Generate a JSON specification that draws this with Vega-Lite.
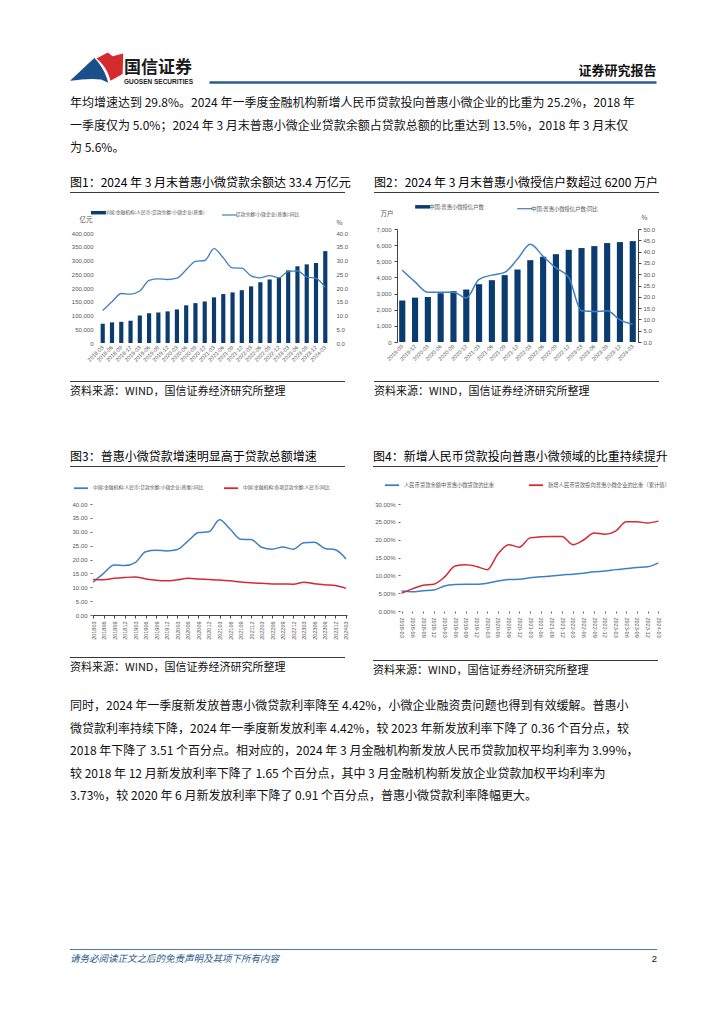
{
  "$schema": "https://vega.github.io/schema/vega-lite/v6.json",
  "background": "white",
  "padding": {"left": 70, "top": 45, "right": 10, "bottom": 10},
  "spacing": 0,
  "resolve": {"scale": {"color": "independent", "shape": "independent"}, "legend": {"color": "independent", "shape": "independent"}},
  "config": {
    "view": {"stroke": null},
    "font": "Noto Sans CJK SC",
    "title": {"font": "Noto Sans CJK SC", "fontWeight": "normal", "color": "#111", "limit": 900},
    "axis": {"labelFont": "Liberation Sans", "labelColor": "#555", "grid": false, "titleFont": "Noto Sans CJK SC", "titleFontWeight": "normal", "titleColor": "#555", "titleFontSize": 6.5},
    "legend": {"labelFont": "Noto Sans CJK SC", "labelColor": "#555", "padding": 0}
  },
  "datasets": {
    "q": [
      {"d": "2018-03", "bal": 70000, "yoy": 11.8, "loan": 12.8},
      {"d": "2018-06", "bal": 75000, "yoy": 15.0, "loan": 12.7},
      {"d": "2018-09", "bal": 77000, "yoy": 18.0, "loan": 13.2},
      {"d": "2018-12", "bal": 81000, "yoy": 17.8, "loan": 13.5},
      {"d": "2019-03", "bal": 100000, "yoy": 18.9, "loan": 13.7},
      {"d": "2019-06", "bal": 108000, "yoy": 22.8, "loan": 13.0},
      {"d": "2019-09", "bal": 111000, "yoy": 23.3, "loan": 12.5},
      {"d": "2019-12", "bal": 115000, "yoy": 23.1, "loan": 12.3},
      {"d": "2020-03", "bal": 122000, "yoy": 23.6, "loan": 12.7},
      {"d": "2020-06", "bal": 137000, "yoy": 26.6, "loan": 13.2},
      {"d": "2020-09", "bal": 145000, "yoy": 29.7, "loan": 13.0},
      {"d": "2020-12", "bal": 151000, "yoy": 30.0, "loan": 12.8},
      {"d": "2021-03", "bal": 166000, "yoy": 34.3, "loan": 12.6},
      {"d": "2021-06", "bal": 178000, "yoy": 31.0, "loan": 12.3},
      {"d": "2021-09", "bal": 184000, "yoy": 27.3, "loan": 11.9},
      {"d": "2021-12", "bal": 192000, "yoy": 27.2, "loan": 11.6},
      {"d": "2022-03", "bal": 206000, "yoy": 24.4, "loan": 11.4},
      {"d": "2022-06", "bal": 221000, "yoy": 23.7, "loan": 11.2},
      {"d": "2022-09", "bal": 231000, "yoy": 24.5, "loan": 11.2},
      {"d": "2022-12", "bal": 238000, "yoy": 23.7, "loan": 11.1},
      {"d": "2023-03", "bal": 264000, "yoy": 26.0, "loan": 11.8},
      {"d": "2023-06", "bal": 279000, "yoy": 26.2, "loan": 11.3},
      {"d": "2023-09", "bal": 286000, "yoy": 24.0, "loan": 10.9},
      {"d": "2023-12", "bal": 291000, "yoy": 23.5, "loan": 10.6},
      {"d": "2024-03", "bal": 334000, "yoy": 20.2, "loan": 9.6}
    ],
    "q2": [
      {"d": "2019-09", "cnt": 2570, "yoy": 31.8},
      {"d": "2019-12", "cnt": 2750, "yoy": 26.6},
      {"d": "2020-03", "cnt": 2790, "yoy": 22.0},
      {"d": "2020-06", "cnt": 3020, "yoy": 22.0},
      {"d": "2020-09", "cnt": 3150, "yoy": 22.0},
      {"d": "2020-12", "cnt": 3250, "yoy": 19.5},
      {"d": "2021-03", "cnt": 3580, "yoy": 27.7},
      {"d": "2021-06", "cnt": 3830, "yoy": 29.6},
      {"d": "2021-09", "cnt": 4140, "yoy": 30.8},
      {"d": "2021-12", "cnt": 4490, "yoy": 36.7},
      {"d": "2022-03", "cnt": 5070, "yoy": 43.2},
      {"d": "2022-06", "cnt": 5280, "yoy": 37.9},
      {"d": "2022-09", "cnt": 5440, "yoy": 32.8},
      {"d": "2022-12", "cnt": 5710, "yoy": 28.6},
      {"d": "2023-03", "cnt": 5820, "yoy": 13.8},
      {"d": "2023-06", "cnt": 5940, "yoy": 13.5},
      {"d": "2023-09", "cnt": 6130, "yoy": 13.8},
      {"d": "2023-12", "cnt": 6190, "yoy": 9.8},
      {"d": "2024-03", "cnt": 6250, "yoy": 7.8}
    ],
    "q4": [
      {"d": "2018-03", "stock": 5.6, "flow": 5.0},
      {"d": "2018-06", "stock": 5.4, "flow": 6.2},
      {"d": "2018-09", "stock": 5.7, "flow": 7.2},
      {"d": "2018-12", "stock": 5.9, "flow": 7.5},
      {"d": "2019-03", "stock": 7.0, "flow": 9.5},
      {"d": "2019-06", "stock": 7.4, "flow": 12.6},
      {"d": "2019-09", "stock": 7.5, "flow": 13.0},
      {"d": "2019-12", "stock": 7.5, "flow": 12.5},
      {"d": "2020-03", "stock": 7.8, "flow": 11.6},
      {"d": "2020-06", "stock": 8.4, "flow": 16.0},
      {"d": "2020-09", "stock": 8.8, "flow": 18.6},
      {"d": "2020-12", "stock": 8.9, "flow": 17.9},
      {"d": "2021-03", "stock": 9.3, "flow": 20.5},
      {"d": "2021-06", "stock": 9.6, "flow": 20.8},
      {"d": "2021-09", "stock": 9.8, "flow": 20.9},
      {"d": "2021-12", "stock": 10.1, "flow": 20.9},
      {"d": "2022-03", "stock": 10.3, "flow": 18.6},
      {"d": "2022-06", "stock": 10.6, "flow": 19.9},
      {"d": "2022-09", "stock": 11.0, "flow": 21.9},
      {"d": "2022-12", "stock": 11.2, "flow": 21.5},
      {"d": "2023-03", "stock": 11.6, "flow": 22.4},
      {"d": "2023-06", "stock": 11.9, "flow": 25.0},
      {"d": "2023-09", "stock": 12.2, "flow": 25.0},
      {"d": "2023-12", "stock": 12.4, "flow": 24.7},
      {"d": "2024-03", "stock": 13.5, "flow": 25.2}
    ]
  },
  "vconcat": [
    {
      "spacing": 0,
      "resolve": {"scale": {"color": "independent", "shape": "independent"}, "legend": {"color": "independent", "shape": "independent"}},
      "hconcat": [
        {
          "width": 54, "height": 32,
          "data": {"values": [{"p": "red"}, {"p": "blue"}]},
          "mark": {"type": "point", "filled": true, "size": 2916, "opacity": 1, "strokeWidth": 0},
          "encoding": {
            "shape": {"field": "p", "type": "nominal", "legend": null, "scale": {"domain": ["red", "blue"], "range": ["M -0.02 -0.28 L 0.4 -0.5 L 0.58 -0.36 L 0.97 -0.46 L 0.95 0.3 L 0.5 0.55 C 0.42 0.2 0.25 -0.05 -0.02 -0.28 Z", "M -1 0.55 L -0.1 -0.3 C 0.15 -0.05 0.32 0.25 0.42 0.62 L 0.15 0.5 C -0.2 0.45 -0.6 0.5 -1 0.55 Z"]}},
            "color": {"field": "p", "type": "nominal", "legend": null, "scale": {"domain": ["red", "blue"], "range": ["#d52b2e", "#1b4f8c"]}}
          }
        },
        {
          "width": 85, "height": 3,
          "title": {"text": "国信证券", "subtitle": "GUOSEN SECURITIES", "orient": "bottom", "anchor": "start", "offset": 3, "fontSize": 17, "fontWeight": "bold", "color": "#1a1a1a", "subtitleFontSize": 6.5, "subtitleColor": "#222", "subtitlePadding": 2, "subtitleFont": "Liberation Sans", "subtitleFontWeight": "bold"},
          "data": {"values": [{}]},
          "mark": {"type": "text", "text": ""}
        },
        {
          "width": 447, "height": 32,
          "data": {"values": [{}]},
          "mark": {"type": "text", "text": ""},
          "encoding": {
            "x": {"datum": 0, "type": "quantitative", "scale": {"domain": [0, 1]},
              "axis": {"orient": "bottom", "domainColor": "#2a5d8f", "domainWidth": 2.5, "ticks": false, "labels": false, "title": "证券研究报告", "titleAnchor": "end", "titleAlign": "right", "titleBaseline": "bottom", "titleY": -5, "titleFontSize": 13, "titleFontWeight": "bold", "titleColor": "#111"}}
          }
        }
      ]
    },
    {"width": 1, "height": 12, "data": {"values": [{}]}, "mark": {"type": "text", "text": "", "fontSize": 0}},
    {
      "width": 587, "height": 1,
      "title": {"text": ["年均增速达到 29.8%。2024 年一季度金融机构新增人民币贷款投向普惠小微企业的比重为 25.2%，2018 年", "一季度仅为 5.0%；2024 年 3 月末普惠小微企业贷款余额占贷款总额的比重达到 13.5%，2018 年 3 月末仅", "为 5.6%。"], "anchor": "start", "offset": 0, "fontSize": 12, "lineHeight": 22.5, "color": "#111"},
      "data": {"values": [{}]},
      "mark": {"type": "text", "text": "", "fontSize": 0}
    },
    {"width": 1, "height": 21, "data": {"values": [{}]}, "mark": {"type": "text", "text": "", "fontSize": 0}},
    {
      "spacing": 23,
      "resolve": {"scale": {"color": "independent"}, "legend": {"color": "independent"}},
      "hconcat": [
        {
          "spacing": 0,
          "resolve": {"scale": {"color": "independent"}, "legend": {"color": "independent"}},
          "vconcat": [
            {"width": 275, "height": 1, "view": {"fill": "#3a3a3a", "stroke": null}, "title": {"text": "图1：2024 年 3 月末普惠小微贷款余额达 33.4 万亿元", "anchor": "start", "offset": 2, "fontSize": 12, "color": "#000"}, "data": {"values": [{}]}, "mark": {"type": "text", "text": "", "fontSize": 0}},
            {"width": 1, "height": 17, "data": {"values": [{}]}, "mark": {"type": "text", "text": "", "fontSize": 0}},
            {
              "spacing": 0,
              "resolve": {"scale": {"color": "independent"}, "legend": {"color": "independent"}},
              "hconcat": [
                {"width": 1, "height": 1, "data": {"values": [{}]}, "mark": {"type": "text", "text": "", "fontSize": 0}},
                {
                  "width": 236, "height": 110,
                  "data": {"name": "q"},
                  "encoding": {
                    "x": {"field": "d", "type": "ordinal", "sort": null, "scale": {"paddingInner": 0.55, "paddingOuter": 0.5},
                      "axis": {"title": null, "labelAngle": -45, "labelAlign": "right", "labelBaseline": "middle", "labelFontSize": 5.5, "domain": false, "ticks": false, "labelPadding": 3}}
                  },
                  "layer": [
                    {
                      "mark": {"type": "bar"},
                      "encoding": {
                        "y": {"field": "bal", "type": "quantitative", "scale": {"domain": [0, 400000]},
                          "axis": {"values": [0, 50000, 100000, 150000, 200000, 250000, 300000, 350000, 400000], "format": ",.0f", "labelFontSize": 6, "domain": false, "ticks": false, "labelPadding": 3, "title": "亿元", "titleAngle": 0, "titleAlign": "left", "titleBaseline": "middle", "titleX": -17, "titleY": -14}},
                        "color": {"datum": "中国:金融机构:人民币:贷款余额:小微企业(普惠)",
                          "scale": {"domain": ["中国:金融机构:人民币:贷款余额:小微企业(普惠)", "贷款余额:小微企业(普惠):同比"], "range": ["#0b3c70", "#3f80c2"]},
                          "legend": {"orient": "top", "direction": "horizontal", "title": null, "symbolType": "stroke", "symbolSize": 225, "labelFontSize": 4.8, "columnPadding": 14, "offset": 13,
                            "encode": {"symbols": {"update": {"stroke": {"scale": "color", "field": "value"}, "strokeWidth": {"signal": "datum.index === 0 ? 3.5 : 1.2"}}}}}}
                      }
                    },
                    {
                      "mark": {"type": "line", "interpolate": "monotone", "strokeWidth": 1.3},
                      "encoding": {
                        "y": {"field": "yoy", "type": "quantitative", "scale": {"domain": [0, 40]},
                          "axis": {"orient": "right", "values": [0, 5, 10, 15, 20, 25, 30, 35, 40], "format": ".1f", "labelFontSize": 6, "domain": false, "ticks": false, "labelPadding": 4, "title": "%", "titleAngle": 0, "titleAlign": "left", "titleBaseline": "middle", "titleX": 4, "titleY": -11}},
                        "color": {"datum": "贷款余额:小微企业(普惠):同比"}
                      }
                    }
                  ],
                  "resolve": {"scale": {"y": "independent"}}
                }
              ]
            },
            {"width": 1, "height": 18, "data": {"values": [{}]}, "mark": {"type": "text", "text": "", "fontSize": 0}},
            {"width": 275, "height": 1, "view": {"fill": "#3a3a3a", "stroke": null}, "title": {"text": "资料来源：WIND，国信证券经济研究所整理", "orient": "bottom", "anchor": "start", "offset": 4, "fontSize": 11, "color": "#111"}, "data": {"values": [{}]}, "mark": {"type": "text", "text": "", "fontSize": 0}}
          ]
        },
        {
          "spacing": 0,
          "resolve": {"scale": {"color": "independent"}, "legend": {"color": "independent"}},
          "vconcat": [
            {"width": 285, "height": 1, "view": {"fill": "#3a3a3a", "stroke": null}, "title": {"text": "图2：2024 年 3 月末普惠小微授信户数超过 6200 万户", "anchor": "start", "offset": 2, "fontSize": 12, "color": "#000"}, "data": {"values": [{}]}, "mark": {"type": "text", "text": "", "fontSize": 0}},
            {"width": 1, "height": 11, "data": {"values": [{}]}, "mark": {"type": "text", "text": "", "fontSize": 0}},
            {
              "spacing": 0,
              "resolve": {"scale": {"color": "independent"}, "legend": {"color": "independent"}},
              "hconcat": [
                {"width": 1, "height": 1, "data": {"values": [{}]}, "mark": {"type": "text", "text": "", "fontSize": 0}},
                {
                  "width": 241, "height": 113,
                  "data": {"name": "q2"},
                  "encoding": {
                    "x": {"field": "d", "type": "ordinal", "sort": null, "scale": {"paddingInner": 0.52, "paddingOuter": 0.17},
                      "axis": {"title": null, "labelAngle": -45, "labelAlign": "right", "labelBaseline": "middle", "labelFontSize": 5.5, "domain": false, "ticks": false, "labelPadding": 3}}
                  },
                  "layer": [
                    {
                      "mark": {"type": "bar"},
                      "encoding": {
                        "y": {"field": "cnt", "type": "quantitative", "scale": {"domain": [0, 7000]},
                          "axis": {"values": [0, 1000, 2000, 3000, 4000, 5000, 6000, 7000], "format": ",.0f", "labelFontSize": 6, "domain": true, "domainColor": "#444", "ticks": true, "tickSize": 3, "tickColor": "#444", "labelPadding": 3, "title": "万户", "titleAngle": 0, "titleAlign": "left", "titleBaseline": "middle", "titleX": -17, "titleY": -16}},
                        "color": {"datum": "中国:普惠小微授信户数",
                          "scale": {"domain": ["中国:普惠小微授信户数", "中国:普惠小微授信户数:同比"], "range": ["#0b3c70", "#3f80c2"]},
                          "legend": {"orient": "none", "legendX": 23, "legendY": -25, "direction": "horizontal", "title": null, "symbolType": "stroke", "symbolSize": 225, "labelFontSize": 5.3, "columnPadding": 30,
                            "encode": {"symbols": {"update": {"stroke": {"scale": "color", "field": "value"}, "strokeWidth": {"signal": "datum.index === 0 ? 3.5 : 1.2"}}}}}}
                      }
                    },
                    {
                      "mark": {"type": "line", "interpolate": "monotone", "strokeWidth": 1.5},
                      "encoding": {
                        "y": {"field": "yoy", "type": "quantitative", "scale": {"domain": [0, 50]},
                          "axis": {"orient": "right", "values": [0, 5, 10, 15, 20, 25, 30, 35, 40, 45, 50], "format": ".1f", "labelFontSize": 6, "domain": true, "domainColor": "#444", "ticks": true, "tickSize": 3, "tickColor": "#444", "labelPadding": 2, "title": "%", "titleAngle": 0, "titleAlign": "left", "titleBaseline": "middle", "titleX": 3, "titleY": -12}},
                        "color": {"datum": "中国:普惠小微授信户数:同比"}
                      }
                    }
                  ],
                  "resolve": {"scale": {"y": "independent"}}
                }
              ]
            },
            {"width": 1, "height": 19, "data": {"values": [{}]}, "mark": {"type": "text", "text": "", "fontSize": 0}},
            {"width": 285, "height": 1, "view": {"fill": "#3a3a3a", "stroke": null}, "title": {"text": "资料来源：WIND，国信证券经济研究所整理", "orient": "bottom", "anchor": "start", "offset": 4, "fontSize": 11, "color": "#111"}, "data": {"values": [{}]}, "mark": {"type": "text", "text": "", "fontSize": 0}}
          ]
        }
      ]
    },
    {"width": 1, "height": 54, "data": {"values": [{}]}, "mark": {"type": "text", "text": "", "fontSize": 0}},
    {
      "spacing": 23,
      "resolve": {"scale": {"color": "independent"}, "legend": {"color": "independent"}},
      "hconcat": [
        {
          "spacing": 0,
          "resolve": {"scale": {"color": "independent"}, "legend": {"color": "independent"}},
          "vconcat": [
            {"width": 275, "height": 1, "view": {"fill": "#3a3a3a", "stroke": null}, "title": {"text": "图3：普惠小微贷款增速明显高于贷款总额增速", "anchor": "start", "offset": 2, "fontSize": 12, "color": "#000"}, "data": {"values": [{}]}, "mark": {"type": "text", "text": "", "fontSize": 0}},
            {"width": 1, "height": 13, "data": {"values": [{}]}, "mark": {"type": "text", "text": "", "fontSize": 0}},
            {
              "spacing": 0,
              "resolve": {"scale": {"color": "independent"}, "legend": {"color": "independent"}},
              "hconcat": [
                {"width": 1, "height": 1, "data": {"values": [{}]}, "mark": {"type": "text", "text": "", "fontSize": 0}},
                {
                  "width": 255, "height": 111,
                  "data": {"name": "q"},
                  "encoding": {
                    "x": {"field": "d", "type": "ordinal", "sort": null, "scale": {"type": "point", "padding": 0.1},
                      "axis": {"title": null, "labelAngle": -90, "labelAlign": "right", "labelBaseline": "middle", "labelFontSize": 5.5, "labelExpr": "replace(datum.label, '-', '')", "domain": true, "domainColor": "#444", "ticks": true, "tickSize": 3, "tickColor": "#444", "labelPadding": 3}}
                  },
                  "layer": [
                    {
                      "mark": {"type": "line", "interpolate": "monotone", "strokeWidth": 1.5},
                      "encoding": {
                        "y": {"field": "yoy", "type": "quantitative", "scale": {"domain": [0, 40]},
                          "axis": {"values": [0, 5, 10, 15, 20, 25, 30, 35, 40], "format": ".2f", "labelFontSize": 6, "domain": false, "ticks": true, "tickSize": 2, "tickColor": "#666", "labelPadding": 3, "title": null}},
                        "color": {"datum": "中国:金融机构:人民币:贷款余额:小微企业(普惠):同比",
                          "scale": {"domain": ["中国:金融机构:人民币:贷款余额:小微企业(普惠):同比", "中国:金融机构:各项贷款余额:人民币:同比"], "range": ["#3f80c2", "#d42a34"]},
                          "legend": {"orient": "none", "legendX": -19, "legendY": -24, "direction": "horizontal", "title": null, "symbolType": "stroke", "symbolSize": 200, "symbolStrokeWidth": 1.8, "labelFontSize": 4.8, "columnPadding": 16}}
                      }
                    },
                    {
                      "mark": {"type": "line", "interpolate": "monotone", "strokeWidth": 1.5},
                      "encoding": {
                        "y": {"field": "loan", "type": "quantitative", "scale": {"domain": [0, 40]},
                          "axis": {"values": [0, 5, 10, 15, 20, 25, 30, 35, 40], "format": ".2f", "labelFontSize": 6, "domain": false, "ticks": true, "tickSize": 2, "tickColor": "#666", "labelPadding": 3, "title": null}},
                        "color": {"datum": "中国:金融机构:各项贷款余额:人民币:同比"}
                      }
                    }
                  ]
                }
              ]
            },
            {"width": 1, "height": 17, "data": {"values": [{}]}, "mark": {"type": "text", "text": "", "fontSize": 0}},
            {"width": 275, "height": 1, "view": {"fill": "#3a3a3a", "stroke": null}, "title": {"text": "资料来源：WIND，国信证券经济研究所整理", "orient": "bottom", "anchor": "start", "offset": 4, "fontSize": 11, "color": "#111"}, "data": {"values": [{}]}, "mark": {"type": "text", "text": "", "fontSize": 0}}
          ]
        },
        {
          "spacing": 0,
          "resolve": {"scale": {"color": "independent"}, "legend": {"color": "independent"}},
          "vconcat": [
            {"width": 285, "height": 1, "view": {"fill": "#3a3a3a", "stroke": null}, "title": {"text": "图4：新增人民币贷款投向普惠小微领域的比重持续提升", "anchor": "start", "offset": 2, "fontSize": 12, "color": "#000"}, "data": {"values": [{}]}, "mark": {"type": "text", "text": "", "fontSize": 0}},
            {"width": 1, "height": 10, "data": {"values": [{}]}, "mark": {"type": "text", "text": "", "fontSize": 0}},
            {
              "spacing": 0,
              "resolve": {"scale": {"color": "independent"}, "legend": {"color": "independent"}},
              "hconcat": [
                {"width": 1, "height": 1, "data": {"values": [{}]}, "mark": {"type": "text", "text": "", "fontSize": 0}},
                {
                  "width": 260, "height": 107,
                  "data": {"name": "q4"},
                  "encoding": {
                    "x": {"field": "d", "type": "ordinal", "sort": null, "scale": {"type": "point", "padding": 0.15},
                      "axis": {"title": null, "labelAngle": 90, "labelAlign": "left", "labelBaseline": "middle", "labelFontSize": 5.5, "domain": false, "ticks": true, "tickSize": 2, "tickColor": "#666", "labelPadding": 4}}
                  },
                  "layer": [
                    {
                      "mark": {"type": "line", "interpolate": "monotone", "strokeWidth": 1.5},
                      "encoding": {
                        "y": {"field": "stock", "type": "quantitative", "scale": {"domain": [0, 30]},
                          "axis": {"values": [0, 5, 10, 15, 20, 25, 30], "labelExpr": "format(datum.value, '.2f') + '%'", "labelFontSize": 6, "domain": false, "ticks": true, "tickSize": 2, "tickColor": "#666", "labelPadding": 3, "title": null}},
                        "color": {"datum": "人民币贷款余额中普惠小微贷款的比重",
                          "scale": {"domain": ["人民币贷款余额中普惠小微贷款的比重", "新增人民币贷款投向普惠小微企业的比重（累计值）"], "range": ["#3f80c2", "#d42a34"]},
                          "legend": {"orient": "none", "legendX": -16, "legendY": -27, "direction": "horizontal", "title": null, "symbolType": "stroke", "symbolSize": 200, "symbolStrokeWidth": 1.8, "labelFontSize": 5.3, "columnPadding": 30}}
                      }
                    },
                    {
                      "mark": {"type": "line", "interpolate": "monotone", "strokeWidth": 1.5},
                      "encoding": {
                        "y": {"field": "flow", "type": "quantitative", "scale": {"domain": [0, 30]},
                          "axis": {"values": [0, 5, 10, 15, 20, 25, 30], "labelExpr": "format(datum.value, '.2f') + '%'", "labelFontSize": 6, "domain": false, "ticks": true, "tickSize": 2, "tickColor": "#666", "labelPadding": 3, "title": null}},
                        "color": {"datum": "新增人民币贷款投向普惠小微企业的比重（累计值）"}
                      }
                    }
                  ]
                }
              ]
            },
            {"width": 1, "height": 22, "data": {"values": [{}]}, "mark": {"type": "text", "text": "", "fontSize": 0}},
            {"width": 285, "height": 1, "view": {"fill": "#3a3a3a", "stroke": null}, "title": {"text": "资料来源：WIND，国信证券经济研究所整理", "orient": "bottom", "anchor": "start", "offset": 4, "fontSize": 11, "color": "#111"}, "data": {"values": [{}]}, "mark": {"type": "text", "text": "", "fontSize": 0}}
          ]
        }
      ]
    },
    {"width": 1, "height": 24, "data": {"values": [{}]}, "mark": {"type": "text", "text": "", "fontSize": 0}},
    {
      "width": 587, "height": 1,
      "title": {"text": ["同时，2024 年一季度新发放普惠小微贷款利率降至 4.42%，小微企业融资贵问题也得到有效缓解。普惠小", "微贷款利率持续下降，2024 年一季度新发放利率 4.42%，较 2023 年新发放利率下降了 0.36 个百分点，较", "2018 年下降了 3.51 个百分点。相对应的，2024 年 3 月金融机构新发放人民币贷款加权平均利率为 3.99%，", "较 2018 年 12 月新发放利率下降了 1.65 个百分点，其中 3 月金融机构新发放企业贷款加权平均利率为", "3.73%，较 2020 年 6 月新发放利率下降了 0.91 个百分点，普惠小微贷款利率降幅更大。"], "anchor": "start", "offset": 0, "fontSize": 12, "lineHeight": 22.4, "color": "#111"},
      "data": {"values": [{}]},
      "mark": {"type": "text", "text": "", "fontSize": 0}
    },
    {"width": 1, "height": 145, "data": {"values": [{}]}, "mark": {"type": "text", "text": "", "fontSize": 0}},
    {
      "spacing": 0,
      "hconcat": [
        {"width": 560, "height": 1, "view": {"fill": "#4a78a8", "stroke": null}, "title": {"text": "请务必阅读正文之后的免责声明及其项下所有内容", "orient": "bottom", "anchor": "start", "offset": 4, "fontSize": 9.5, "fontStyle": "italic", "color": "#2b5b8a"}, "data": {"values": [{}]}, "mark": {"type": "text", "text": "", "fontSize": 0}},
        {"width": 27, "height": 1, "view": {"fill": "#4a78a8", "stroke": null}, "title": {"text": "2", "orient": "bottom", "anchor": "end", "offset": 4, "fontSize": 9.5, "color": "#111", "font": "Liberation Sans"}, "data": {"values": [{}]}, "mark": {"type": "text", "text": "", "fontSize": 0}}
      ]
    }
  ]
}
